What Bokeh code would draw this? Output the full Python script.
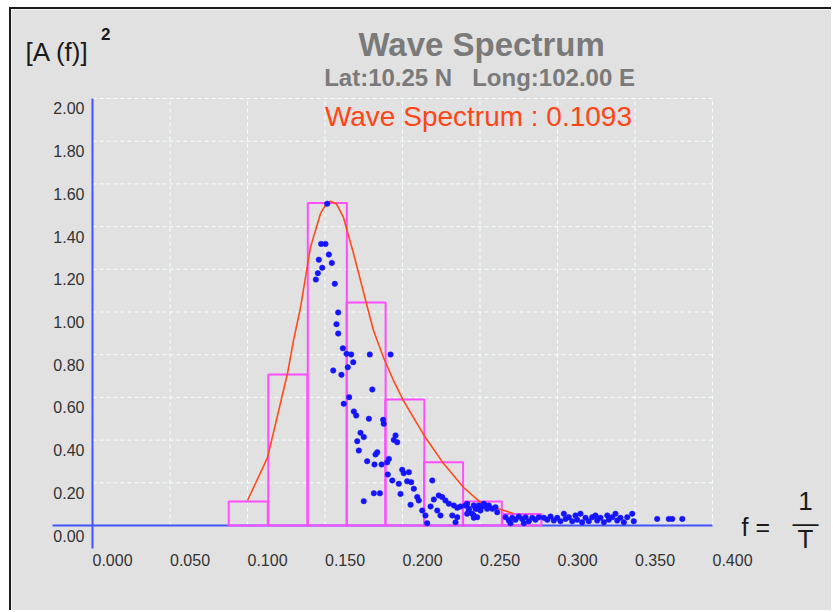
from bokeh.plotting import figure
from bokeh.models import Range1d, Label, LabelSet, ColumnDataSource
from bokeh.core.properties import value
from bokeh.embed import file_html
from bokeh.resources import INLINE

# ---------------- data ----------------
X_TICKS = [0.0, 0.05, 0.10, 0.15, 0.20, 0.25, 0.30, 0.35, 0.40]
X_TICK_LABELS = ["0.000", "0.050", "0.100", "0.150", "0.200", "0.250", "0.300", "0.350", "0.400"]
Y_TICKS = [0.0, 0.2, 0.4, 0.6, 0.8, 1.0, 1.2, 1.4, 1.6, 1.8, 2.0]
Y_TICK_LABELS = ["0.00", "0.20", "0.40", "0.60", "0.80", "1.00", "1.20", "1.40", "1.60", "1.80", "2.00"]

# histogram of the spectrum (bin centre frequency, height)
BAR_F = [0.1005, 0.1260, 0.1515, 0.1765, 0.2015, 0.2265, 0.2515, 0.2770]
BAR_A = [0.112, 0.707, 1.510, 1.045, 0.590, 0.296, 0.112, 0.054]
BIN_WIDTH = 0.0252

# fitted spectrum curve
CURVE_F = [0.1000, 0.1129, 0.1258, 0.1297, 0.1342, 0.1406, 0.1471, 0.1503, 0.1535, 0.1574,
           0.1619, 0.1684, 0.1774, 0.1813, 0.1877, 0.1942, 0.2006, 0.2148, 0.2265, 0.2394,
           0.2503, 0.2613, 0.2716]
CURVE_A = [0.117, 0.318, 0.712, 0.867, 1.021, 1.302, 1.461, 1.501, 1.519, 1.506,
           1.443, 1.274, 1.021, 0.913, 0.787, 0.679, 0.585, 0.412, 0.290, 0.178,
           0.108, 0.080, 0.056]

# measured points
PT_F = [0.1514, 0.1475, 0.1503, 0.1525, 0.1460, 0.1544, 0.1482, 0.1454, 0.1441, 0.1563,
        0.1585, 0.1574, 0.1585, 0.1615, 0.1639, 0.1669, 0.1789, 0.1923, 0.1682, 0.1647,
        0.1553, 0.1606, 0.1805, 0.1656, 0.1621, 0.1686, 0.1701, 0.1783, 0.1875, 0.1879,
        0.1729, 0.1750, 0.1708, 0.1955, 0.1966, 0.1944, 0.1718, 0.1837, 0.1826, 0.1772,
        0.1819, 0.1865, 0.1912, 0.1901, 0.1998, 0.2008, 0.2041, 0.1905, 0.1934, 0.1976,
        0.2030, 0.2056, 0.2073, 0.2192, 0.1815, 0.1854, 0.1987, 0.1750, 0.2095, 0.2105,
        0.2052, 0.2202, 0.2234, 0.2256, 0.2277, 0.2299, 0.2181, 0.2224, 0.2127, 0.2245,
        0.2148, 0.2331, 0.2353, 0.2374, 0.2321, 0.2353, 0.2342, 0.2159, 0.2417, 0.2428,
        0.2460, 0.2482, 0.2460, 0.2482, 0.2514, 0.2535, 0.2546, 0.2406, 0.2428, 0.2450,
        0.2471, 0.2492, 0.2503, 0.2525, 0.2557, 0.2579, 0.2600, 0.2611, 0.2460, 0.2417,
        0.2665, 0.2686, 0.2708, 0.2729, 0.2750, 0.2772, 0.2794, 0.2815, 0.2837, 0.2858,
        0.2879, 0.2697, 0.2783, 0.2912, 0.2934, 0.2955, 0.2976, 0.2998, 0.3019, 0.3041,
        0.3052, 0.3073, 0.3095, 0.3116, 0.3127, 0.3148, 0.3159, 0.3181, 0.3202, 0.3224,
        0.3245, 0.3256, 0.3277, 0.3299, 0.3321, 0.3331, 0.3353, 0.3374, 0.3385, 0.3406,
        0.3428, 0.3450, 0.3482, 0.3492, 0.3643, 0.3718, 0.3740, 0.3805]
PT_A = [1.507, 1.319, 1.319, 1.269, 1.245, 1.230, 1.207, 1.182, 1.152, 1.132,
        0.998, 0.943, 0.899, 0.830, 0.804, 0.801, 0.801, 0.801, 0.765, 0.741,
        0.726, 0.706, 0.637, 0.601, 0.570, 0.534, 0.515, 0.500, 0.495, 0.476,
        0.434, 0.414, 0.395, 0.422, 0.390, 0.401, 0.351, 0.343, 0.333, 0.301,
        0.286, 0.286, 0.312, 0.296, 0.261, 0.245, 0.250, 0.239, 0.211, 0.195,
        0.207, 0.203, 0.172, 0.211, 0.151, 0.151, 0.148, 0.114, 0.133, 0.117,
        0.097, 0.122, 0.141, 0.133, 0.117, 0.102, 0.089, 0.070, 0.070, 0.047,
        0.047, 0.094, 0.083, 0.089, 0.047, 0.039, 0.015, 0.011, 0.102, 0.078,
        0.094, 0.078, 0.047, 0.039, 0.089, 0.094, 0.078, 0.094, 0.070, 0.055,
        0.078, 0.094, 0.070, 0.102, 0.094, 0.078, 0.086, 0.062, 0.036, 0.055,
        0.039, 0.023, 0.036, 0.027, 0.042, 0.031, 0.039, 0.020, 0.036, 0.027,
        0.039, 0.011, 0.011, 0.036, 0.027, 0.042, 0.023, 0.036, 0.020, 0.055,
        0.031, 0.039, 0.020, 0.047, 0.027, 0.055, 0.015, 0.036, 0.020, 0.039,
        0.047, 0.023, 0.036, 0.015, 0.047, 0.027, 0.039, 0.055, 0.023, 0.036,
        0.015, 0.039, 0.055, 0.020, 0.031, 0.031, 0.031, 0.031]

TITLE = "Wave Spectrum"
SUBTITLE = "Lat:10.25 N\u00a0\u00a0\u00a0Long:102.00 E"
RESULT = "Wave Spectrum : 0.1093"

# ---------------- style ----------------
BG = "#e1e1e1"
AXIS_BLUE = "#4455ff"
BAR_COLOR = "#ff4dff"
CURVE_COLOR = "#ff4a1c"
POINT_COLOR = "#1414ff"
GRID_COLOR = "#f6ffff"
FONT = "Liberation Sans"

# the plotting frame covers the whole canvas
X_MIN, X_MAX = -0.05226, 0.47806
Y_MIN, Y_MAX = -0.40749, 2.41686
AXIS_X_START = -0.0258   # left end of the drawn frequency axis line
AXIS_Y_START = -0.1077   # lower end of the drawn amplitude axis line

p = figure(width=822, height=603,
           x_range=Range1d(X_MIN, X_MAX), y_range=Range1d(Y_MIN, Y_MAX),
           output_backend="svg", toolbar_location=None, tools="",
           x_axis_location=None, y_axis_location=None,
           min_border=0, min_border_left=0, min_border_right=0, min_border_top=0, min_border_bottom=0,
           background_fill_color=BG, border_fill_color=BG, outline_line_color=None)
p.margin = (7, 0, 0, 9)
p.styles = {"border-top": "2px solid #1c1c1c", "border-left": "2px solid #1c1c1c"}
p.grid.visible = False

# dashed grid, from the tick arrays
gx = [t for t in X_TICKS if t > 0]
gy = [t for t in Y_TICKS if t > 0]
p.segment(x0=gx, x1=gx, y0=[Y_TICKS[0]] * len(gx), y1=[Y_TICKS[-1]] * len(gx),
          line_color=GRID_COLOR, line_width=1, line_dash="4 3")
p.segment(x0=[X_TICKS[0]] * len(gy), x1=[X_TICKS[-1]] * len(gy), y0=gy, y1=gy,
          line_color=GRID_COLOR, line_width=1, line_dash="4 3")

# blue axis lines through the origin
p.segment(x0=[AXIS_X_START, X_TICKS[0]], x1=[X_TICKS[-1], X_TICKS[0]],
          y0=[Y_TICKS[0], AXIS_Y_START], y1=[Y_TICKS[0], Y_TICKS[-1]],
          line_color=AXIS_BLUE, line_width=2)

# histogram bars
p.vbar(x=BAR_F, width=BIN_WIDTH, top=BAR_A, bottom=0, fill_alpha=0,
       line_color=BAR_COLOR, line_width=2)

# spectrum curve
p.line(CURVE_F, CURVE_A, line_color=CURVE_COLOR, line_width=1.6)

# points
p.scatter(PT_F, PT_A, marker="circle", size=5.5, fill_color=POINT_COLOR,
          line_color=POINT_COLOR, line_width=0.5)

# tick labels
xsrc = ColumnDataSource(dict(x=X_TICKS, y=[Y_TICKS[0]] * len(X_TICKS), t=X_TICK_LABELS))
p.add_layout(LabelSet(x="x", y="y", text="t", source=xsrc, text_align="left", text_baseline="middle",
                      y_offset=-34, text_font=value(FONT), text_font_size="16px", text_color="#333333"))
ysrc = ColumnDataSource(dict(x=[X_TICKS[0]] * len(Y_TICKS), y=Y_TICKS, t=Y_TICK_LABELS))
p.add_layout(LabelSet(x="x", y="y", text="t", source=ysrc, text_align="right", text_baseline="middle",
                      x_offset=-8, y_offset=-10, text_font=value(FONT), text_font_size="16px",
                      text_color="#333333"))


def lab(text, x, y, size, color, align="center", style="normal", font=FONT):
    p.add_layout(Label(x=x, y=y, text=text, text_font=font, text_font_size=f"{size}px",
                       text_color=color, text_align=align, text_baseline="middle",
                       text_font_style=style))


lab(TITLE, 0.251, 2.252, 33, "#7a7a7a", style="bold")
lab(SUBTITLE, 0.2497, 2.098, 24, "#7a7a7a", style="bold")
lab(RESULT, 0.249, 1.918, 28, "#ff4515")
lab("[A (f)]", -0.0432, 2.2155, 26, "#1a1a1a", align="left")
lab("2", 0.0085, 2.300, 17, "#1a1a1a", style="bold")
lab("f =", 0.4187, -0.005, 25, "#1a1a1a", align="left")
lab("1", 0.460, 0.117, 26, "#1a1a1a")
lab("\u2014", 0.460, 0.0094, 26, "#1a1a1a")
lab("T", 0.460, -0.061, 26, "#1a1a1a")

open("out.html", "w").write(file_html(p, INLINE))
